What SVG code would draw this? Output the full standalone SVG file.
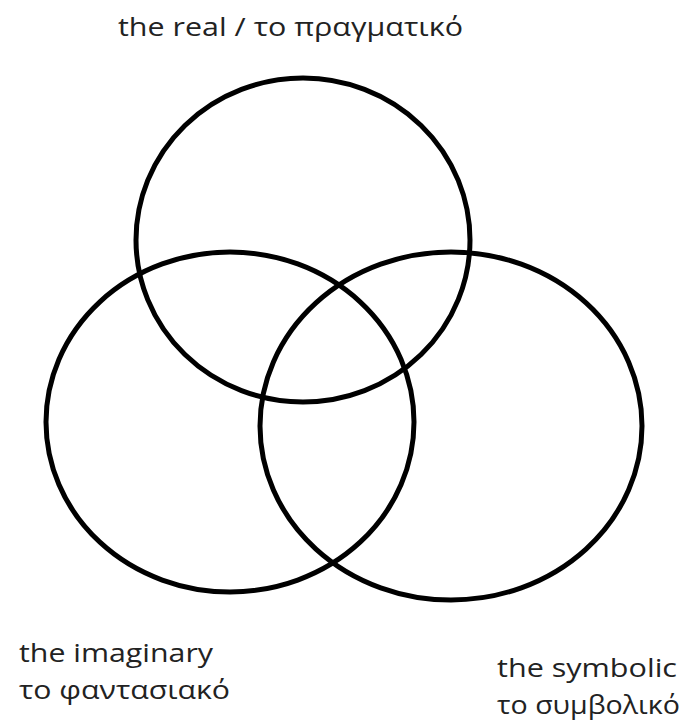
<svg xmlns="http://www.w3.org/2000/svg" width="693" height="726" viewBox="0 0 693 726">
<style>
.c{fill:none;stroke:#000;stroke-width:5}
.t{font-family:"Open Sans","Noto Sans",sans-serif;fill:#222;font-size:26px}
</style>
<rect width="693" height="726" fill="#fff"/>
<g id="real">
<ellipse class="c" cx="303" cy="240" rx="167" ry="162"/>
<text class="t" x="118" y="36" textLength="345" lengthAdjust="spacingAndGlyphs">the real / το πραγματικό</text>
</g>
<g id="imaginary">
<ellipse class="c" cx="230" cy="422" rx="184" ry="170"/>
<text class="t" x="19" y="662" textLength="194" lengthAdjust="spacingAndGlyphs">the imaginary</text>
<text class="t" x="19" y="699" textLength="211" lengthAdjust="spacingAndGlyphs">το φαντασιακό</text>
</g>
<g id="symbolic">
<ellipse class="c" cx="451" cy="426" rx="191" ry="174"/>
<text class="t" x="497" y="677" textLength="180" lengthAdjust="spacingAndGlyphs">the symbolic</text>
<text class="t" x="497" y="714" textLength="183" lengthAdjust="spacingAndGlyphs">το συμβολικό</text>
</g>
<g id="connectors"/>
</svg>
